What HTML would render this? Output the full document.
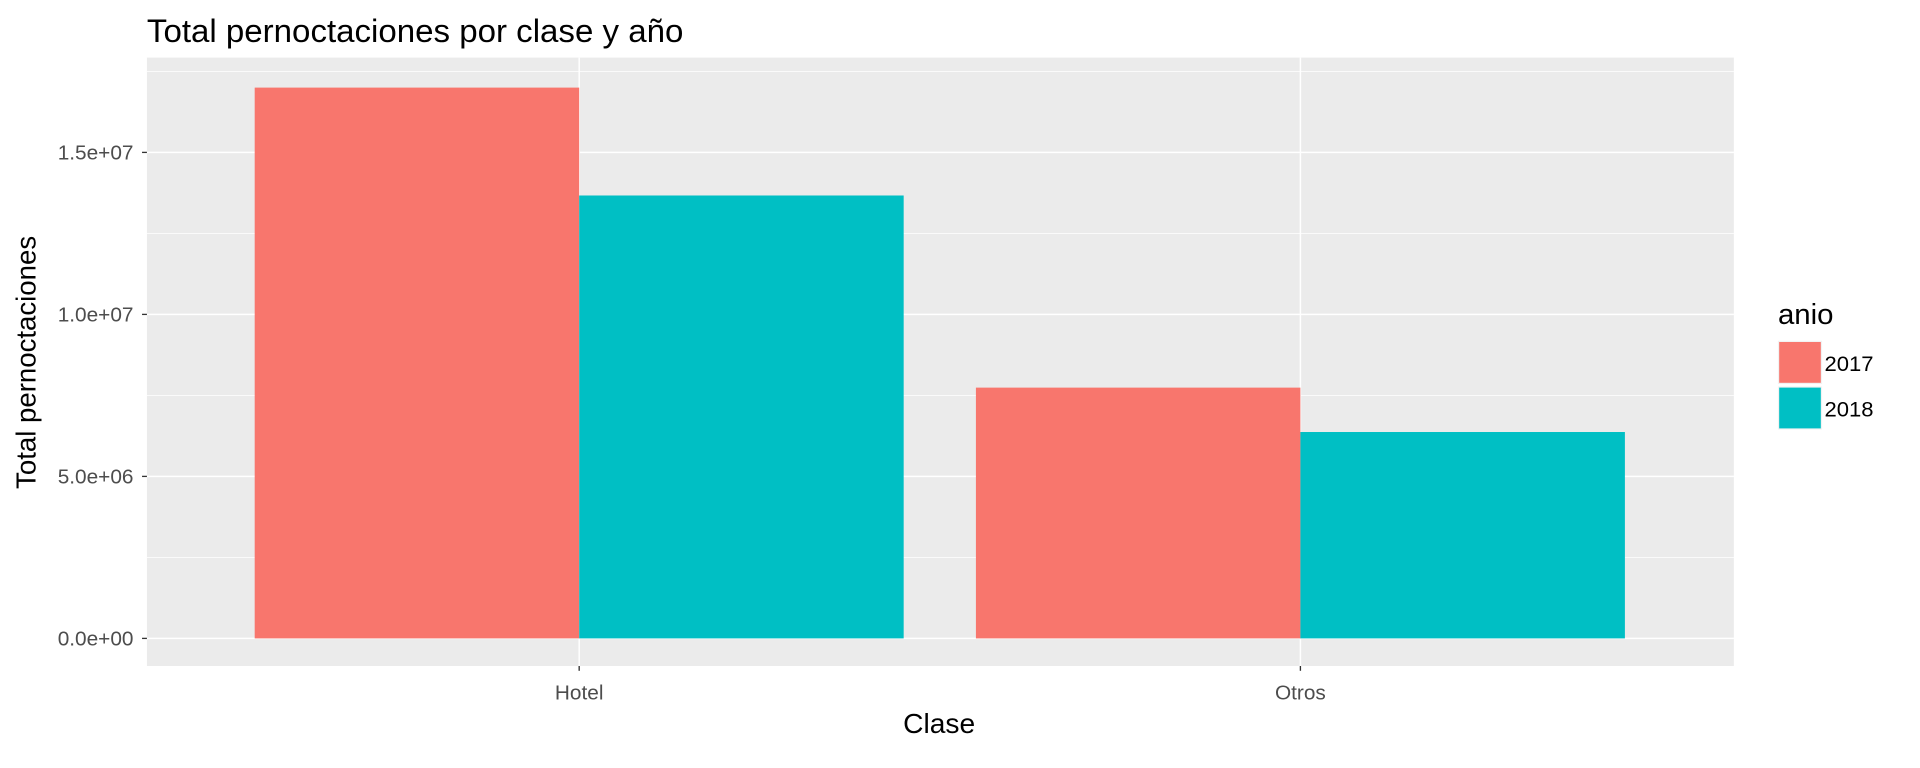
<!DOCTYPE html>
<html><head><meta charset="utf-8"><style>html,body{margin:0;padding:0;background:#fff}svg{display:block}text{font-family:"Liberation Sans",Arial,sans-serif}</style></head>
<body>
<svg id="chart" width="1920" height="768" viewBox="0 0 1568 640" preserveAspectRatio="none">
<text x="120" y="35" font-size="27" fill="#000">Total pernoctaciones por clase y año</text>
<rect x="120" y="48" width="1296" height="507" fill="#EBEBEB"/>
<g id="grid"></g><g id="bars"></g><g id="axes"></g>
<text x="767" y="611" font-size="23" text-anchor="middle">Clase</text>
<text transform="translate(29,302) rotate(-90)" font-size="23" text-anchor="middle">Total pernoctaciones</text>
<g>
<text x="1452" y="270" font-size="24">anio</text>
<rect x="1452" y="284" width="36" height="36" fill="#F2F2F2"/>
<rect x="1453" y="285" width="34" height="34" fill="#F8766D"/>
<text x="1490" y="309" font-size="18">2017</text>
<rect x="1452" y="322" width="36" height="36" fill="#F2F2F2"/>
<rect x="1453" y="323" width="34" height="34" fill="#00BFC4"/>
<text x="1490" y="347" font-size="18">2018</text>
</g>
</svg>
<script>
const categories = ["Hotel", "Otros"];
const series2017 = [17000000, 7740000];
const series2018 = [13670000, 6370000];
const yTicks = [0, 5000000, 10000000, 15000000];
const yTickLabels = ["0.0e+00", "5.0e+06", "1.0e+07", "1.5e+07"];
const NS = "http://www.w3.org/2000/svg";
const y = v => 532 - v / 5000000 * 135;
const x = i => 473 + i * 589;
const bw = 265;
function mk(tag, attrs, parent) { const e = document.createElementNS(NS, tag); for (const k in attrs) e.setAttribute(k, attrs[k]); parent.appendChild(e); return e; }
const grid = document.getElementById('grid'), bars = document.getElementById('bars'), axes = document.getElementById('axes');
for (let v = 2500000; v < 18000000; v += 5000000) {
  const l = mk('line', {x1:120, x2:1416, y1:y(v), y2:y(v), stroke:'#fff', 'stroke-width':0.6}, grid);
  
  
}
yTicks.forEach((v, i) => {
  const l = mk('line', {x1:120, x2:1416, y1:y(v), y2:y(v), stroke:'#fff', 'stroke-width':1.2}, grid);
  
  
  const t = mk('line', {x1:116, x2:120, y1:y(v), y2:y(v), stroke:'#333', 'stroke-width':1.1}, axes);
  
  
  const tx = mk('text', {x:109, y:y(v) + 6, 'font-size':17, fill:'#4D4D4D', 'text-anchor':'end'}, axes);
  tx.textContent = yTickLabels[i];
  
  
});
categories.forEach((c, i) => {
  const g = mk('line', {x1:x(i), x2:x(i), y1:48, y2:555, stroke:'#fff', 'stroke-width':1.2}, grid);
  
  
  const b1 = mk('rect', {x:x(i) - bw, y:y(series2017[i]), width:bw, height:y(0) - y(series2017[i]), fill:'#F8766D'}, bars);
  
  
  const b2 = mk('rect', {x:x(i), y:y(series2018[i]), width:bw, height:y(0) - y(series2018[i]), fill:'#00BFC4'}, bars);
  
  
  const t = mk('line', {x1:x(i), x2:x(i), y1:555, y2:559, stroke:'#333', 'stroke-width':1.1}, axes);
  
  
  const tx = mk('text', {x:x(i), y:583, 'font-size':17, fill:'#4D4D4D', 'text-anchor':'middle'}, axes);
  tx.textContent = c;
  
  
});
</script>
</body></html>
